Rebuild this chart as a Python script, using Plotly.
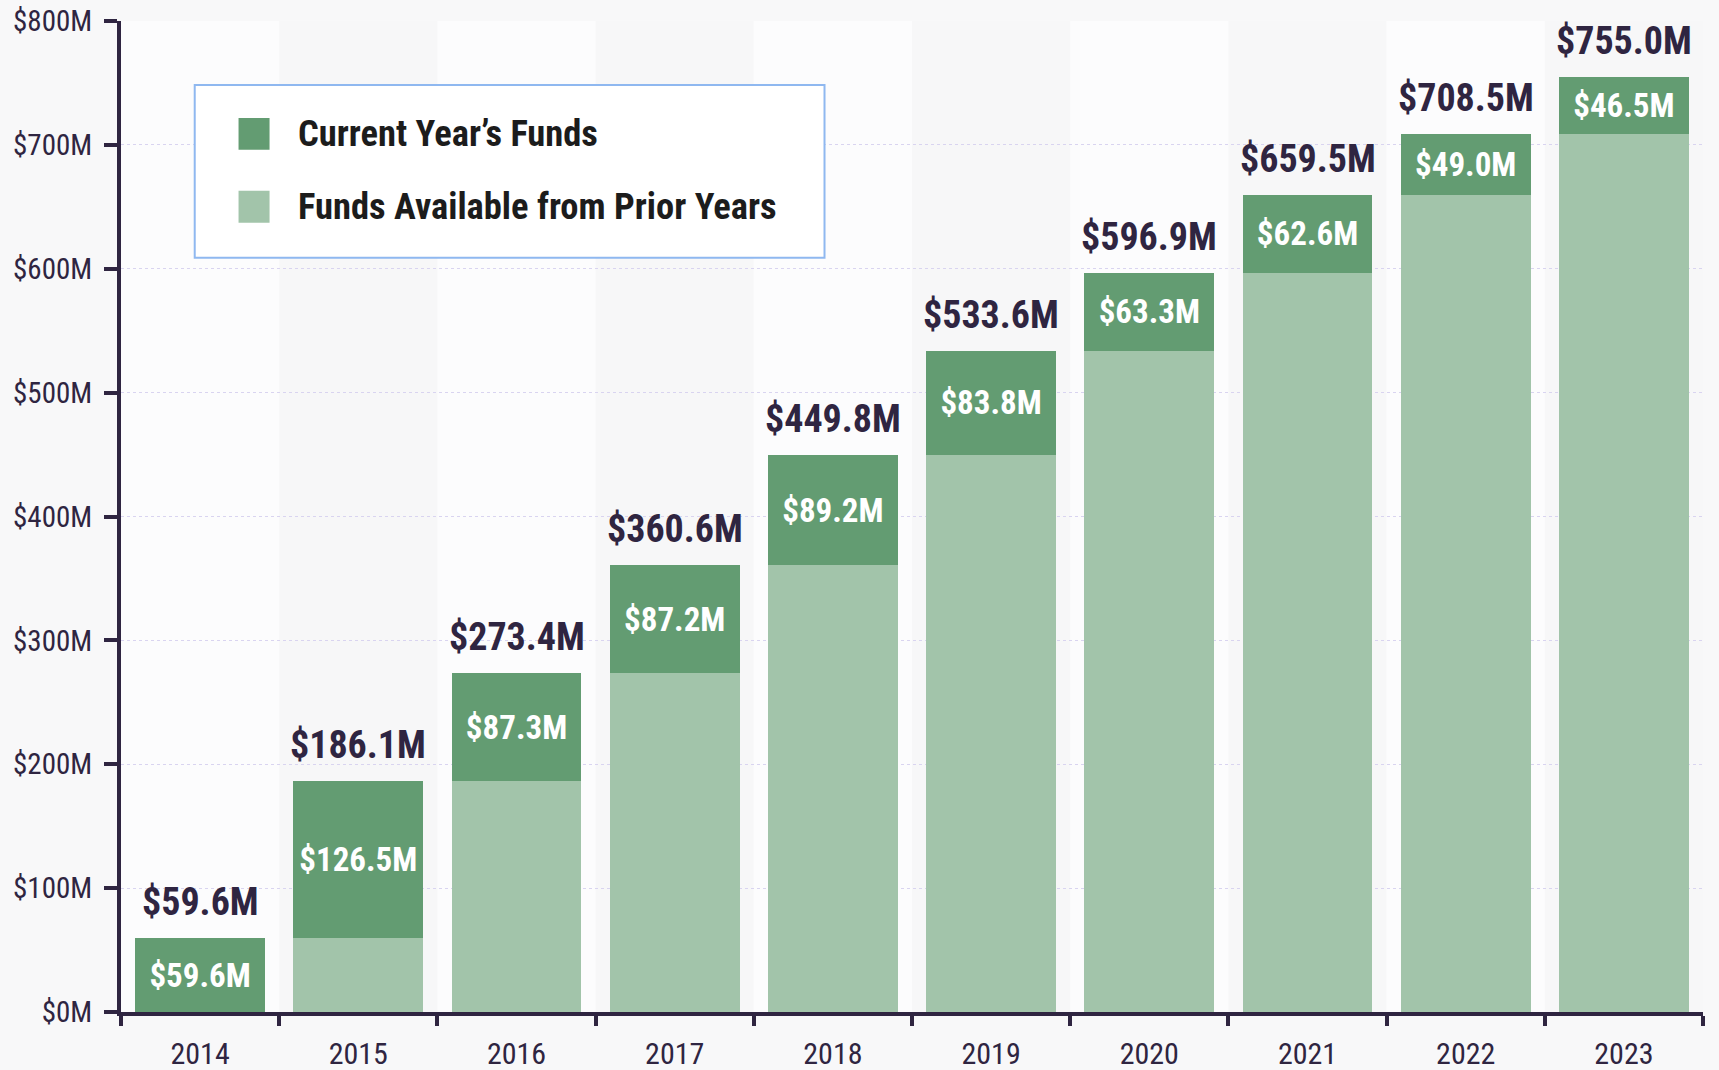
import plotly.graph_objects as go

years = ["2014", "2015", "2016", "2017", "2018", "2019", "2020", "2021", "2022", "2023"]
current_funds = [59.6, 126.5, 87.3, 87.2, 89.2, 83.8, 63.3, 62.6, 49.0, 46.5]
prior_funds = [0.0, 59.6, 186.1, 273.4, 360.6, 449.8, 533.6, 596.9, 659.5, 708.5]
totals = [59.6, 186.1, 273.4, 360.6, 449.8, 533.6, 596.9, 659.5, 708.5, 755.0]
y_ticks = [0, 100, 200, 300, 400, 500, 600, 700, 800]
y_tick_labels = ["$%dM" % v for v in y_ticks]
legend_names = ["Current Year’s Funds", "Funds Available from Prior Years"]

FONT = "Roboto Condensed, Liberation Sans Narrow, Roboto, sans-serif"
DARK = "#2f2541"
C_CUR = "#639c72"
C_PRI = "#a2c4aa"

x = list(range(len(years)))

fig = go.Figure()
fig.add_trace(go.Bar(
    x=x, y=prior_funds, marker=dict(color=C_PRI, line=dict(width=0)),
    width=0.82, showlegend=False, hoverinfo="skip", name=legend_names[1]))
fig.add_trace(go.Bar(
    x=x, y=current_funds, marker=dict(color=C_CUR, line=dict(width=0)),
    width=0.82, showlegend=False, name=legend_names[0],
    text=["$%.1fM" % v for v in current_funds], textposition="inside",
    insidetextanchor="middle",
    textfont=dict(family=FONT, size=33, color="white", weight="bold")))

annotations = []
for xi, t in zip(x, totals):
    annotations.append(dict(x=xi, y=t, xref="x", yref="y", text="$%.1fM" % t,
                            showarrow=False, xanchor="center", yanchor="bottom", yshift=12,
                            font=dict(family=FONT, size=38, color=DARK, weight="bold")))

# alternating background bands
shapes = []
for i in x:
    if i % 2 == 1:
        shapes.append(dict(type="rect", xref="x", yref="paper", x0=i - 0.5, x1=i + 0.5,
                           y0=0, y1=1, fillcolor="rgba(0,0,0,0.018)", line=dict(width=0),
                           layer="below"))

# manual legend
shapes.append(dict(type="rect", xref="paper", yref="paper", x0=0.0466, x1=0.4447,
                   y0=0.761, y1=0.9355, fillcolor="white",
                   line=dict(color="#8fb8f0", width=2), layer="above"))
sq = [(0.9022, 0.870), (0.8286, 0.7964)]
cols = [C_CUR, C_PRI]
for (ya, yb), c, name in zip(sq, cols, legend_names):
    shapes.append(dict(type="rect", xref="paper", yref="paper", x0=0.0743, x1=0.0939,
                       y0=yb, y1=ya, fillcolor=c, line=dict(width=0), layer="above"))
    annotations.append(dict(xref="paper", yref="paper", x=0.1108, y=(ya + yb) / 2,
                            text=name, showarrow=False, xanchor="left", yanchor="middle",
                            font=dict(family=FONT, size=36.5, color="#1c1c1c", weight="bold")))

fig.update_layout(
    width=1719, height=1070,
    margin=dict(l=121, r=16, t=21, b=58, autoexpand=False),
    paper_bgcolor="#f8f8f9", plot_bgcolor="rgba(255,255,255,0.6)",
    barmode="stack", bargap=0.18,
    shapes=shapes, annotations=annotations,
    uniformtext=dict(minsize=33, mode="show"),
    font=dict(family=FONT, color=DARK),
    xaxis=dict(range=[-0.5, len(years) - 0.5], tickvals=x, ticktext=years,
               ticks="", showgrid=False, zeroline=False, automargin=False,
               showline=True, linewidth=4, linecolor=DARK,
               tickfont=dict(family=FONT, size=30, color=DARK),
               ticklabelstandoff=12,
               minor=dict(tickvals=[i - 0.5 for i in x] + [len(years) - 0.5],
                          ticks="outside", ticklen=10, tickwidth=4, tickcolor=DARK,
                          showgrid=False)),
    xaxis2=dict(overlaying="x", matches="x", range=[-0.5, len(years) - 0.5],
                tickvals=[i - 0.5 for i in x] + [len(years) - 0.5],
                ticks="inside", ticklen=10, tickwidth=4, tickcolor=DARK,
                showticklabels=False, showgrid=False, zeroline=False, showline=False,
                side="bottom", anchor="y", automargin=False),
    yaxis=dict(range=[0, 800], tickvals=y_ticks, ticktext=y_tick_labels,
               ticks="outside", ticklen=13, tickwidth=4, tickcolor=DARK, automargin=False,
               showline=True, linewidth=4, linecolor=DARK, zeroline=False,
               showgrid=True, gridcolor="#d9d4f0", gridwidth=1, griddash="dot",
               tickfont=dict(family=FONT, size=29, color=DARK), ticklabelstandoff=6),
)

fig.write_html("out.html", config={"displayModeBar": False},
               post_script="document.body.style.margin='0';")
